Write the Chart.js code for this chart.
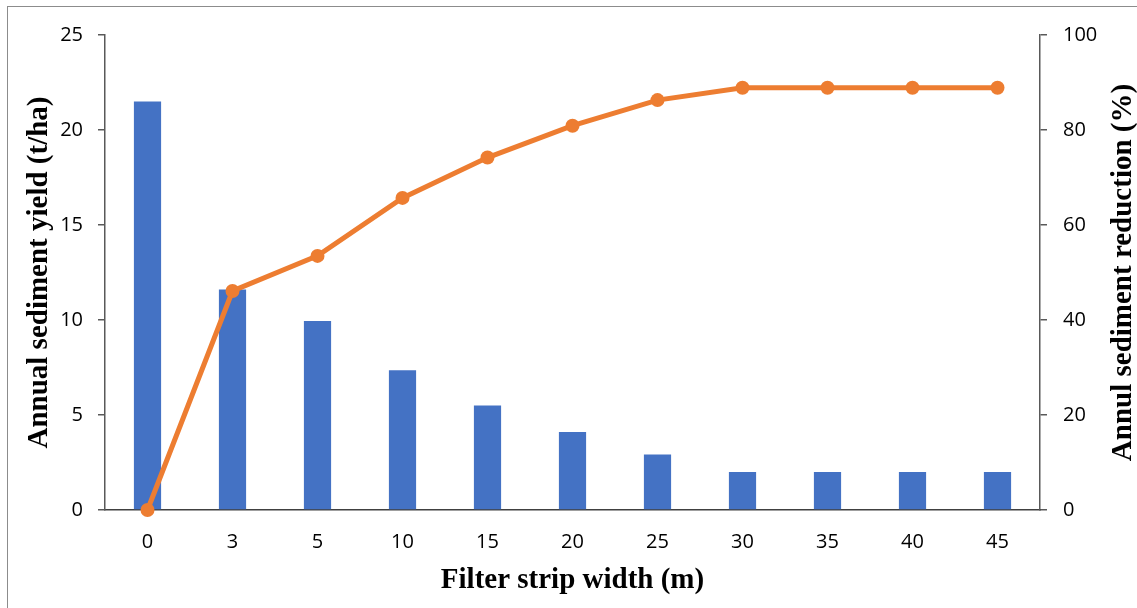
<!DOCTYPE html>
<html>
<head>
<meta charset="utf-8">
<script src="https://cdn.jsdelivr.net/npm/chart.js@4"></script>
<style>
  html, body { margin: 0; padding: 0; background: #fff; overflow: hidden; }
  #wrap { position: relative; width: 1137px; height: 608px; }
  #frame { position: absolute; left: 7px; top: 6px; width: 1200px; height: 700px; border: 1px solid #8c8c8c; }
  canvas { position: absolute; left: 0; top: 0; }
</style>
</head>
<body>
<div id="wrap">
  <div id="frame"></div>
  <canvas id="chart" width="1137" height="608"></canvas>
</div>
<script>
const stripWidths = ['0', '3', '5', '10', '15', '20', '25', '30', '35', '40', '45'];
const sedimentYield = [21.5, 11.6, 9.95, 7.35, 5.5, 4.1, 2.92, 2.0, 2.0, 2.0, 2.0];
const sedimentReduction = [0, 46.1, 53.5, 65.7, 74.2, 80.9, 86.3, 88.9, 88.9, 88.9, 88.9];
const leftTicks = [0, 5, 10, 15, 20, 25];
const rightTicks = [0, 20, 40, 60, 80, 100];

const tickFont = { family: '"Open Sans", sans-serif', size: 20 };
const titleFont = { family: '"Liberation Serif", "Times New Roman", serif', size: 29, weight: 'bold', lineHeight: 1.2 };
const axisColor = '#595959';

// right axis title reads bottom-to-top like the left one
const rightTitle = {
  id: 'rightTitle',
  afterDraw(chart) {
    const { ctx, chartArea } = chart;
    ctx.save();
    ctx.translate(1124, (chartArea.top + chartArea.bottom) / 2);
    ctx.rotate(-Math.PI / 2);
    ctx.font = 'bold 29px "Liberation Serif", "Times New Roman", serif';
    ctx.fillStyle = '#000';
    ctx.textAlign = 'center';
    ctx.textBaseline = 'middle';
    ctx.fillText('Annul sediment reduction (%)', 0, 0);
    ctx.restore();
  }
};

new Chart(document.getElementById('chart'), {
  type: 'bar',
  data: {
    labels: stripWidths,
    datasets: [{
      type: 'line',
      label: 'Annual sediment reduction',
      data: sedimentReduction,
      yAxisID: 'y2',
      borderColor: '#ED7D31',
      backgroundColor: '#ED7D31',
      borderWidth: 5,
      pointRadius: 7,
      pointBackgroundColor: '#ED7D31',
      pointBorderWidth: 0,
      tension: 0,
      clip: false,
      order: 0
    }, {
      label: 'Annual sediment yield',
      data: sedimentYield,
      yAxisID: 'y',
      backgroundColor: '#4472C4',
      borderWidth: 0,
      barPercentage: 0.32,
      categoryPercentage: 1,
      order: 1
    }]
  },
  options: {
    responsive: false,
    animation: false,
    layout: { padding: { top: 35, left: 0, right: 0, bottom: 0 } },
    plugins: {
      legend: { display: false },
      tooltip: { enabled: false }
    },
    scales: {
      x: {
        grid: { display: false },
        border: { display: true, color: '#404040', width: 1.5 },
        ticks: { color: '#000', font: tickFont, padding: 12 },
        title: { display: true, text: 'Filter strip width (m)', color: '#000', font: titleFont, padding: { top: 0, bottom: 10 } },
        afterFit(scale) { scale.height = 98; }
      },
      y: {
        position: 'left',
        min: 0,
        max: 25,
        afterBuildTicks(scale) { scale.ticks = leftTicks.map(v => ({ value: v })); },
        grid: { display: true, drawOnChartArea: false, drawTicks: true, tickLength: 7, color: axisColor, lineWidth: 1.5 },
        border: { display: true, color: axisColor, width: 1.5 },
        ticks: { color: '#000', font: tickFont, padding: 15 },
        title: { display: true, text: 'Annual sediment yield (t/ha)', color: '#000', font: titleFont, padding: { top: 22, bottom: 0 } },
        afterFit(scale) { scale.width = 105; }
      },
      y2: {
        position: 'right',
        min: 0,
        max: 100,
        afterBuildTicks(scale) { scale.ticks = rightTicks.map(v => ({ value: v })); },
        grid: { display: true, drawOnChartArea: false, drawTicks: true, tickLength: 7, color: axisColor, lineWidth: 1.5 },
        border: { display: true, color: axisColor, width: 1.5 },
        ticks: { color: '#000', font: tickFont, padding: 16 },
        afterFit(scale) { scale.width = 97; }
      }
    }
  },
  plugins: [rightTitle]
});
</script>
</body>
</html>
